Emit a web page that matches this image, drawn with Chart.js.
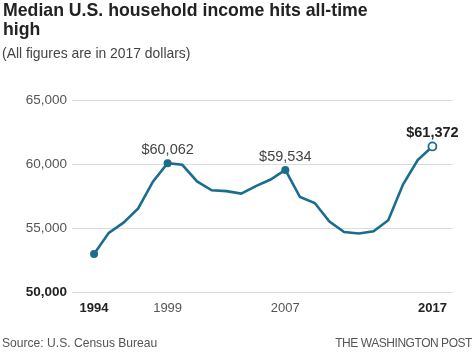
<!DOCTYPE html>
<html>
<head>
<meta charset="utf-8">
<script src="https://cdn.jsdelivr.net/npm/chart.js@4"></script>
<style>
  html, body { margin: 0; padding: 0; background: #fff; }
  #wrap { position: relative; width: 474px; height: 355px; overflow: hidden; font-family: "Liberation Sans", Arial, sans-serif; }
  #title { position: absolute; left: 3px; top: 1px; width: 375px; font-weight: bold; font-size: 17.7px; line-height: 19px; color: #222; }
  #sub { position: absolute; left: 2px; top: 45px; font-size: 13.9px; color: #444; }
  #source { position: absolute; left: 2px; top: 336px; font-size: 12.1px; color: #555; }
  #credit { position: absolute; right: 2px; top: 336px; font-size: 12px; letter-spacing: -0.45px; color: #555; }
  canvas { position: absolute; left: 0; top: 0; }
</style>
</head>
<body>
<div id="wrap">
  <canvas id="c" width="474" height="355"></canvas>
  <div id="title">Median U.S. household income hits all-time high</div>
  <div id="sub">(All figures are in 2017 dollars)</div>
  <div id="source">Source: U.S. Census Bureau</div>
  <div id="credit">THE WASHINGTON POST</div>
</div>
<script>
const years = [1994,1995,1996,1997,1998,1999,2000,2001,2002,2003,2004,2005,2006,2007,2008,2009,2010,2011,2012,2013,2014,2015,2016,2017];
const incomes = [52976,54620,55420,56530,58620,60062,59940,58640,57950,57880,57690,58270,58790,59534,57420,56950,55500,54690,54570,54740,55610,58400,60310,61372];
const xTicks = [1994,1999,2007,2017];
const boldXTicks = [1994,2017];
const yTicks = [50000,55000,60000,65000];
const labeledYears = [1999,2007,2017];
const labelTexts = ["$60,062","$59,534","$61,372"];

const lineColor = '#1a6d8e';
const FONT = '"Liberation Sans", Arial, sans-serif';

const labelPlugin = {
  id: 'pointLabels',
  afterDatasetsDraw(chart) {
    const ctx = chart.ctx;
    const meta = chart.getDatasetMeta(0);
    ctx.save();
    ctx.textAlign = 'center';
    ctx.textBaseline = 'bottom';
    labeledYears.forEach((yr, i) => {
      const idx = years.indexOf(yr);
      const el = meta.data[idx];
      const isLast = yr === 2017;
      ctx.font = (isLast ? 'bold ' : '') + '14.5px ' + FONT;
      ctx.fillStyle = isLast ? '#222' : '#444';
      ctx.fillText(labelTexts[i], el.x, el.y - 6);
    });
    ctx.restore();
  }
};

const isBoldX = ctx => !!(ctx && ctx.tick && boldXTicks.includes(ctx.tick.value));
const isBoldY = ctx => !!(ctx && ctx.tick && ctx.tick.value === 50000);

new Chart(document.getElementById('c'), {
  type: 'line',
  data: {
    datasets: [{
      data: years.map((y, i) => ({x: y, y: incomes[i]})),
      borderColor: lineColor,
      borderWidth: 2.6,
      tension: 0,
      fill: false,
      pointRadius: ctx => {
        const yr = years[ctx.dataIndex];
        return (yr === 1994 || yr === 1999 || yr === 2007 || yr === 2017) ? 4 : 0;
      },
      pointBackgroundColor: ctx => years[ctx.dataIndex] === 2017 ? '#fff' : lineColor,
      pointBorderColor: lineColor,
      pointBorderWidth: ctx => years[ctx.dataIndex] === 2017 ? 1.8 : 0,
      pointHoverRadius: 0
    }]
  },
  options: {
    responsive: false,
    animation: false,
    events: [],
    layout: { padding: { top: 100, right: 21, bottom: 33, left: 0 } },
    plugins: { legend: { display: false }, tooltip: { enabled: false }, title: { display: false } },
    scales: {
      x: {
        type: 'linear',
        min: 1992.5,
        max: 2018.4,
        afterBuildTicks: s => { s.ticks = xTicks.map(v => ({value: v})); },
        afterFit: s => { s.height = 30; },
        grid: { display: false, drawTicks: false },
        border: { display: false },
        ticks: {
          padding: 9,
          maxRotation: 0,
          autoSkip: false,
          callback: v => String(v),
          color: ctx => isBoldX(ctx) ? '#222' : '#555',
          font: ctx => ({ family: FONT, size: 13, weight: isBoldX(ctx) ? 'bold' : 'normal' })
        }
      },
      y: {
        min: 50000,
        max: 65000,
        afterBuildTicks: s => { s.ticks = yTicks.map(v => ({value: v})); },
        afterFit: s => { s.width = 72; },
        grid: { color: '#dcdcdc', lineWidth: 1, drawTicks: false },
        border: { display: false },
        ticks: {
          padding: 5,
          callback: v => v.toLocaleString('en-US'),
          color: ctx => isBoldY(ctx) ? '#222' : '#555',
          font: ctx => ({ family: FONT, size: 13.5, weight: isBoldY(ctx) ? 'bold' : 'normal' })
        }
      }
    }
  },
  plugins: [labelPlugin]
});
</script>
</body>
</html>
